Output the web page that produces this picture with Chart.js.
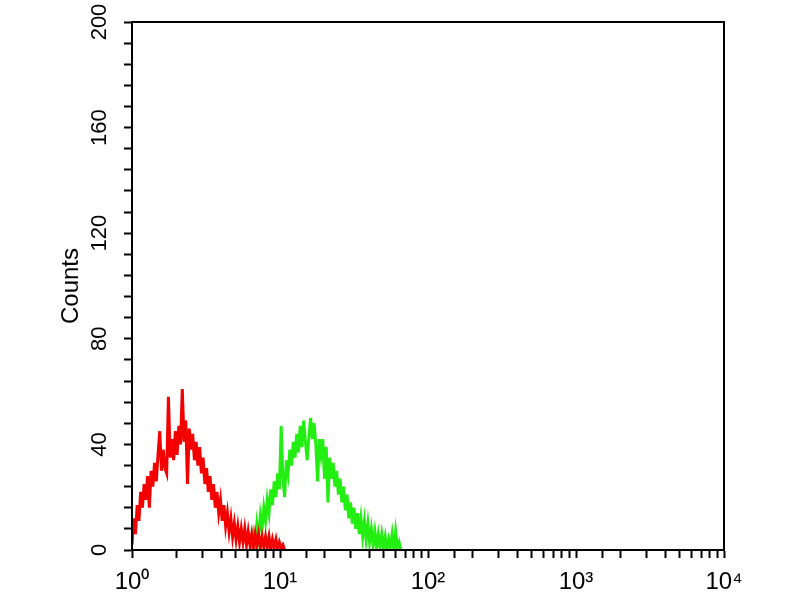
<!DOCTYPE html>
<html><head><meta charset="utf-8">
<script src="https://cdn.jsdelivr.net/npm/chart.js@4"></script>
<style>html,body{margin:0;padding:0;background:#fff}#wrap{width:800px;height:600px}</style>
</head><body><div id="wrap"><canvas id="c" width="800" height="600"></canvas></div>
<script>
// Axis ticks
const xTickLabels = {1: '10⁰', 10: '10¹', 100: '10²', 1000: '10³', 10000: '10⁴'};
const yTickLabels = [0, 40, 80, 120, 160, 200];

// Histogram bins: channel (1024 channels over 4 decades), every 3rd channel
const channelStep = 3;
const channelsPerDecade = 256;

const redStartChannel = 0;
const redCounts = [
  2, 12, 6, 17, 11, 22, 16, 25, 19, 28,
  16, 30, 24, 33, 26, 36, 45, 30, 38, 31,
  29, 58, 35, 42, 34, 45, 36, 47, 40, 61,
  41, 49, 25, 46, 38, 44, 34, 41, 32, 39,
  29, 35, 25, 31, 22, 28, 19, 25, 16, 22,
  14, 19, 11, 17, 9, 14, 7, 12, 5, 10,
  4, 9, 3, 8, 3, 8, 2, 7, 2, 6,
  1, 6, 2, 6, 1, 5, 1, 5, 1, 5,
  0, 4, 1, 4, 0, 3, 1, 2, 0
];

const greenStartChannel = 207;
const greenCounts = [
  0, 6, 2, 10, 5, 13, 8, 16, 11, 19,
  14, 23, 17, 26, 20, 29, 23, 47, 27, 20,
  34, 29, 38, 32, 41, 35, 44, 37, 47, 39,
  49, 41, 34, 43, 50, 42, 48, 40, 26, 42,
  36, 42, 27, 39, 18, 35, 27, 33, 24, 30,
  21, 27, 18, 24, 15, 21, 12, 18, 10, 16,
  8, 14, 6, 12, 5, 11, 4, 10, 3, 8,
  2, 7, 1, 6, 1, 6, 1, 5, 0, 4,
  1, 6, 0, 7, 1, 3, 0
];

function toPoints(start, counts) {
  return counts.map((v, i) => ({x: Math.pow(10, (start + i * channelStep) / channelsPerDecade), y: v}));
}

const boxPlugin = {
  id: 'box',
  afterDatasetsDraw(chart) {
    const {ctx, chartArea: {left, top, right, bottom}} = chart;
    ctx.save();
    ctx.strokeStyle = '#000';
    ctx.lineWidth = 2;
    ctx.strokeRect(left, top, right - left, bottom - top);
    ctx.restore();
  }
};

const FONT = "'Liberation Sans', Arial, Helvetica, sans-serif";

new Chart(document.getElementById('c'), {
  type: 'line',
  data: {
    datasets: [
      {label: 'Red', data: toPoints(redStartChannel, redCounts), borderColor: '#f50000', borderWidth: 3, pointRadius: 0, tension: 0, fill: false},
      {label: 'Green', data: toPoints(greenStartChannel, greenCounts), borderColor: '#22ee11', borderWidth: 3, pointRadius: 0, tension: 0, fill: false}
    ]
  },
  options: {
    responsive: false,
    animation: false,
    layout: {padding: {top: 22, right: 76, left: 0, bottom: 0}},
    plugins: {legend: {display: false}, tooltip: {enabled: false}},
    scales: {
      x: {
        type: 'logarithmic', min: 1, max: 10000,
        afterFit(s) { s.height = 50; },
        border: {display: true, color: '#000', width: 2},
        grid: {drawOnChartArea: false, drawTicks: true, tickLength: 8, tickColor: '#000', tickWidth: 2},
        ticks: {
          autoSkip: false, minRotation: 0, maxRotation: 0, padding: 10, color: '#000',
          font: {family: FONT, size: 24},
          callback(v) { const k = Math.round(v); return xTickLabels[k] !== undefined ? xTickLabels[k] : ''; }
        }
      },
      y: {
        min: 0, max: 200,
        afterFit(s) { s.width = 132; },
        border: {display: true, color: '#000', width: 2},
        grid: {drawOnChartArea: false, drawTicks: true, tickLength: 8, tickColor: '#000', tickWidth: 2},
        ticks: {
          stepSize: 8, autoSkip: false, minRotation: 90, maxRotation: 90, crossAlign: 'center', padding: 6, color: '#000',
          font: {family: FONT, size: 22},
          callback(v) { return yTickLabels.includes(v) ? String(v) : ''; }
        },
        title: {display: true, text: 'Counts', color: '#000', font: {family: FONT, size: 24}, padding: {top: 57, bottom: 0}}
      }
    }
  },
  plugins: [boxPlugin]
});
</script>
</body></html>
